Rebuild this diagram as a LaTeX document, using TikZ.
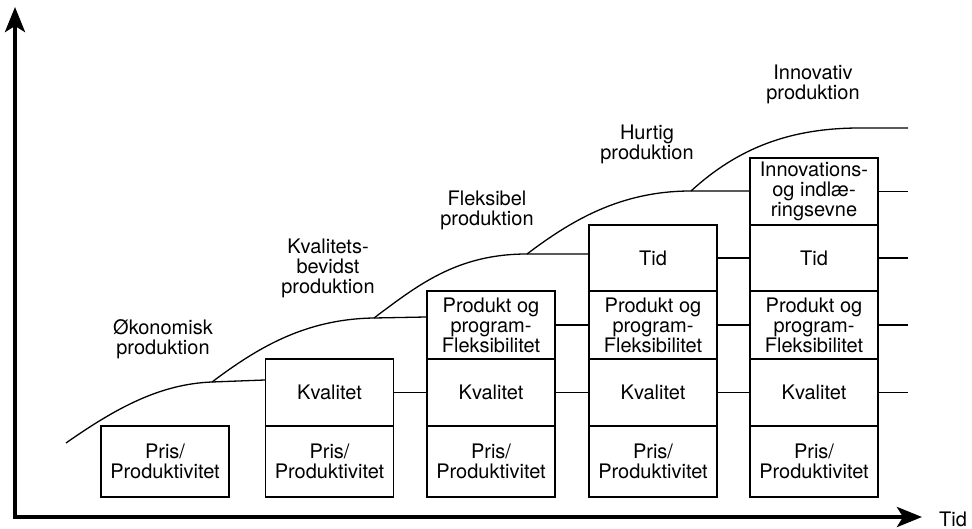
\documentclass[tikz,border=0pt]{standalone}
\usepackage{fontspec}
\setmainfont{TeX Gyre Heros}
\usetikzlibrary{arrows.meta}
\tikzset{
  stagebox/.style={draw, line width=1.3pt, rectangle, minimum width=128pt, inner sep=0pt, align=center, font=\fontsize{20}{20}\selectfont},
  conn/.style={line width=1.3pt},
  curve/.style={line width=1.3pt},
  axis/.style={line width=4pt, {Stealth[length=25pt,width=20pt,inset=6pt]}-{Stealth[length=25pt,width=20pt,inset=6pt]}},
  lbl/.style={align=center, inner sep=0pt, font=\fontsize{20}{20}\selectfont}
}
\begin{document}
\begin{tikzpicture}[x=1pt,y=-1pt]
\useasboundingbox (0,0) rectangle (972,529);
% axes
\coordinate (ytip) at (15,7);
\coordinate (orig) at (15,517);
\coordinate (xtip) at (922,517);
\draw[axis] (ytip) -- (orig) -- (xtip);
\node[lbl, anchor=west] (tid) at (939,519) {Tid};

% column 1
\node[stagebox, minimum height=71pt] (c1r1) at (165,461.5) {Pris/\\Produktivitet};
% column 2
\node[stagebox, minimum height=71pt] (c2r1) at (329.5,461.5) {Pris/\\Produktivitet};
\node[stagebox, minimum height=67pt] (c2r2) at (329.5,392.5) {Kvalitet};
% column 3
\node[stagebox, minimum height=71pt] (c3r1) at (491,461.5) {Pris/\\Produktivitet};
\node[stagebox, minimum height=67pt] (c3r2) at (491,392.5) {Kvalitet};
\node[stagebox, minimum height=68pt] (c3r3) at (491,325) {Produkt og\\program-\\Fleksibilitet};
% column 4
\node[stagebox, minimum height=71pt] (c4r1) at (653,461.5) {Pris/\\Produktivitet};
\node[stagebox, minimum height=67pt] (c4r2) at (653,392.5) {Kvalitet};
\node[stagebox, minimum height=68pt] (c4r3) at (653,325) {Produkt og\\program-\\Fleksibilitet};
\node[stagebox, minimum height=66pt] (c4r4) at (653,258) {Tid};
% column 5
\node[stagebox, minimum height=71pt] (c5r1) at (814,461.5) {Pris/\\Produktivitet};
\node[stagebox, minimum height=67pt] (c5r2) at (814,392.5) {Kvalitet};
\node[stagebox, minimum height=68pt] (c5r3) at (814,325) {Produkt og\\program-\\Fleksibilitet};
\node[stagebox, minimum height=66pt] (c5r4) at (814,258) {Tid};
\node[stagebox, minimum height=67pt] (c5r5) at (814,191.5) {Innovations-\\og indlæ-\\ringsevne};

% connectors between columns
\draw[conn] (c2r2.east) -- (c3r2.west);
\draw[conn] (c3r2.east) -- (c4r2.west);
\draw[conn] (c4r2.east) -- (c5r2.west);
\draw[conn] (c3r3.east) -- (c4r3.west);
\draw[conn] (c4r3.east) -- (c5r3.west);
\draw[conn] (c4r4.east) -- (c5r4.west);
% right-hand stubs
\coordinate (e2) at (908,392.5);
\coordinate (e3) at (908,325);
\coordinate (e4) at (908,258);
\coordinate (e5) at (908,191.5);
\draw[conn] (c5r2.east) -- (e2);
\draw[conn] (c5r3.east) -- (e3);
\draw[conn] (c5r4.east) -- (e4);
\draw[conn] (c5r5.east) -- (e5);

% curves
\coordinate (s0) at (66,443);
\coordinate (b1) at (212,382);
\coordinate (b2) at (374,318);
\coordinate (b3) at (527,254);
\coordinate (b4) at (691,191);
\coordinate (k1) at (c2r2.west |- 0,380);
\coordinate (k2) at (c3r3.west |- 0,317);
\coordinate (k3) at (c4r4.west |- 0,254);
\coordinate (k4) at (c5r5.west |- 0,191);
\coordinate (f5) at (860,128);
\coordinate (top) at (908,128);
\draw[curve] (s0) .. controls (116,408) and (160,384) .. (b1) -- (k1);
\draw[curve] (b1) .. controls (256,349) and (304,319) .. (b2) -- (k2);
\draw[curve] (b2) .. controls (418,285) and (457,254) .. (b3) -- (k3);
\draw[curve] (b3) .. controls (572,220) and (621,191) .. (b4) -- (k4);
\draw[curve] (b4) .. controls (738,148) and (790,128) .. (f5) -- (top);

% stage labels
\node[lbl] (l1) at (163,339) {Økonomisk\\produktion};
\node[lbl] (l2) at (328,268) {Kvalitets-\\bevidst\\produktion};
\node[lbl] (l3) at (487,210) {Fleksibel\\produktion};
\node[lbl] (l4) at (647,144) {Hurtig\\produktion};
\node[lbl] (l5) at (813,84) {Innovativ\\produktion};
\end{tikzpicture}
\end{document}
